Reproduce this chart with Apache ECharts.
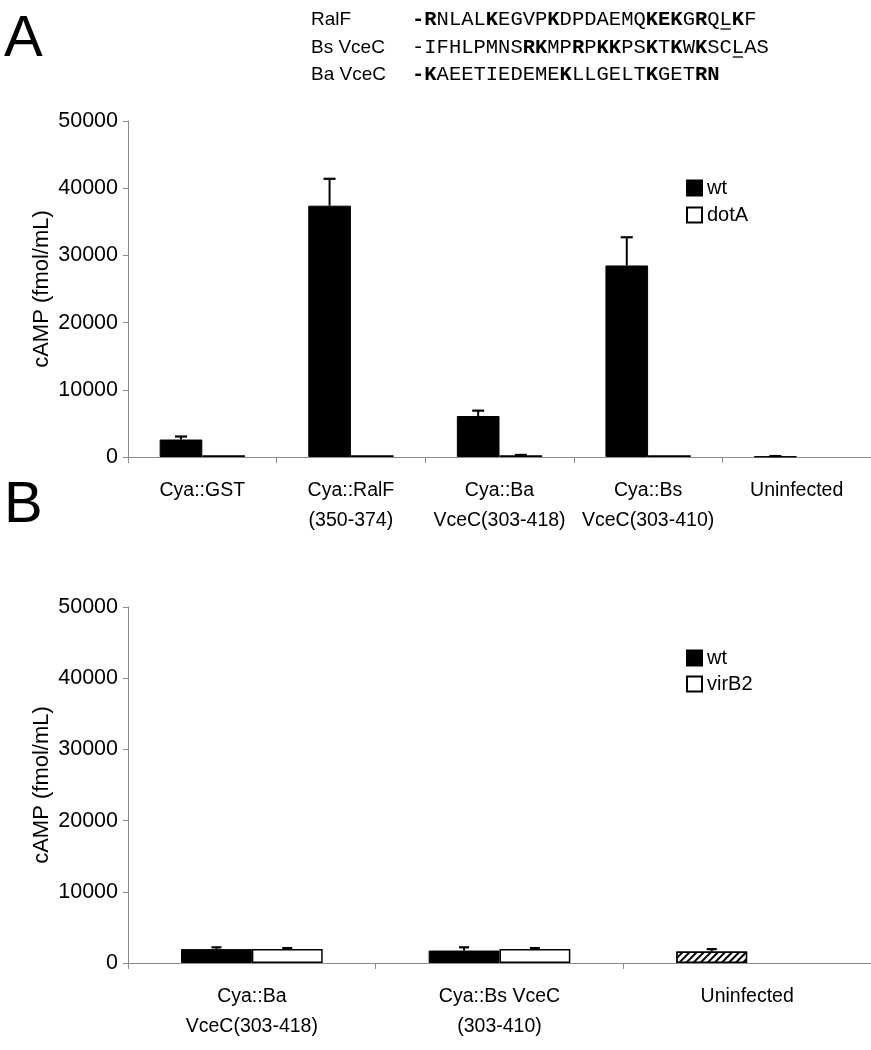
<!DOCTYPE html>
<html>
<head>
<meta charset="utf-8">
<script src="https://cdn.jsdelivr.net/npm/echarts@6/dist/echarts.min.js"></script>
<style>
html,body{margin:0;padding:0;background:#fff;}
#chart{width:871px;height:1050px;}
</style>
</head>
<body>
<div id="chart"></div>
<script>
// ---------- DATA ----------
const categoriesA = ['Cya::GST', 'Cya::RalF\n(350-374)', 'Cya::Ba\nVceC(303-418)', 'Cya::Bs\nVceC(303-410)', 'Uninfected'];
const wtA = [2600, 37400, 6100, 28500, 80];
const wtErrA = [450, 4000, 800, 4200, 60];
const dotAvals = [250, 250, 250, 250, '-'];
const dotAErr = [0, 0, 60, 0, 0];

const categoriesB = ['Cya::Ba\nVceC(303-418)', 'Cya::Bs VceC\n(303-410)', 'Uninfected'];
const wtB = [1950, 1750, 1600];
const wtErrB = [250, 450, 350];
const virB2vals = [1950, 1950, '-'];
const virB2Err = [150, 150, 0];

const seqLabels = ['RalF', 'Bs VceC', 'Ba VceC'];
// segments: [text, bold?]
const seqRalF = [['-R',1],['NLAL',0],['K',1],['EGVP',0],['K',1],['DPDAEMQ',0],['KEK',1],['G',0],['R',1],['QL',0],['K',1],['F',0]];
const seqBs = [['-IFHLPMNS',0],['RK',1],['MP',0],['R',1],['P',0],['KK',1],['PS',0],['K',1],['T',0],['K',1],['W',0],['K',1],['SCLAS',0]];
const seqBa = [['-K',1],['AEETIEDEME',0],['K',1],['LLGELT',0],['K',1],['GET',0],['RN',1]];
const underlineIdx = [25, 26, null];

// ---------- CHART ----------
const chart = echarts.init(document.getElementById('chart'));
const SANS = 'Liberation Sans, Arial, Helvetica, sans-serif';
const MONO = 'Liberation Mono, Courier New, monospace';
const FS_SEQ = 20.5;
const CHW = FS_SEQ * 0.6;
const SEQ_X = 412;
const seqYs = [20, 48, 75];

function richText(segs){
  return segs.map(s => '{' + (s[1] ? 'b' : 'n') + '|' + s[0] + '}').join('');
}
const graphics = [];
graphics.push({type:'text', left:4, top:11, style:{text:'A', font:'58px ' + SANS, fill:'#000'}});
graphics.push({type:'text', left:4, top:477, style:{text:'B', font:'58px ' + SANS, fill:'#000'}});
[seqRalF, seqBs, seqBa].forEach((segs, i) => {
  graphics.push({type:'text', x:311, y:seqYs[i], style:{text:seqLabels[i], font:'19px ' + SANS, fill:'#000', verticalAlign:'middle'}});
  graphics.push({type:'text', x:SEQ_X, y:seqYs[i], style:{text:richText(segs), verticalAlign:'middle', fill:'#000',
    rich:{b:{fontFamily:MONO, fontWeight:'bold', fontSize:FS_SEQ, fill:'#000'}, n:{fontFamily:MONO, fontWeight:'normal', fontSize:FS_SEQ, fill:'#000'}}}});
  if (underlineIdx[i] !== null) {
    const x1 = SEQ_X + underlineIdx[i] * CHW + 1;
    graphics.push({type:'line', shape:{x1:x1, y1:seqYs[i] + 9, x2:x1 + CHW - 2, y2:seqYs[i] + 9}, style:{stroke:'#000', lineWidth:1.3}});
  }
});

function errRender(side, frac, capHalf){
  return function(params, api){
    const cat = api.value(0), v = api.value(1), e = api.value(2);
    if (!e || isNaN(v)) return;
    const catW = api.size([1, 0])[0];
    const base = api.coord([cat, v]);
    const top = api.coord([cat, v + e]);
    const x = base[0] + side * catW * frac / 2;
    return {type:'group', children:[
      {type:'line', shape:{x1:x, y1:base[1], x2:x, y2:top[1]}, style:{stroke:'#000', lineWidth:2}},
      {type:'line', shape:{x1:x - capHalf, y1:top[1], x2:x + capHalf, y2:top[1]}, style:{stroke:'#000', lineWidth:2.2}}
    ]};
  };
}
function errData(vals, errs){
  return vals.map((v, i) => [i, v === '-' ? NaN : v, errs[i]]);
}

const axisGray = '#8a8a8a';
function yAxis(gi){
  return {gridIndex:gi, type:'value', min:0, max:50000, interval:10000,
    name:'cAMP (fmol/mL)', nameLocation:'middle', nameGap:75, nameRotate:90, nameMoveOverlap:false,
    nameTextStyle:{fontFamily:SANS, fontSize:22, color:'#000'},
    axisLine:{show:true, lineStyle:{color:axisGray, width:1}},
    axisTick:{show:true, length:5, lineStyle:{color:axisGray}},
    axisLabel:{fontFamily:SANS, fontSize:21.5, color:'#000', margin:10, formatter:(v) => String(v)},
    splitLine:{show:false}};
}
function xAxis(gi, cats){
  return {gridIndex:gi, type:'category', data:cats,
    axisLine:{lineStyle:{color:axisGray, width:1.2}},
    axisTick:{show:true, length:6, alignWithLabel:false, lineStyle:{color:axisGray}},
    axisLabel:{interval:0, fontFamily:SANS, fontSize:19.5, color:'#000', margin:19, lineHeight:30}};
}

const FRAC_A = 0.287, FRAC_B = 0.286;
const hatch = {symbol:'rect', symbolSize:1, dashArrayX:[1,0], dashArrayY:[2,2.5], rotation:-Math.PI/4, color:'#000', backgroundColor:'#fff'};

const option = {
  animation:false,
  backgroundColor:'#fff',
  graphic:graphics,
  grid:[
    {left:128, top:121, width:748, height:336},
    {left:128, top:607, width:744, height:356}
  ],
  xAxis:[xAxis(0, categoriesA), xAxis(1, categoriesB)],
  yAxis:[yAxis(0), yAxis(1)],
  legend:[
    {data:['wt','dotA'], orient:'vertical', left:681, top:173, itemWidth:15, itemHeight:15, itemGap:7, icon:'rect',
      textStyle:{fontFamily:SANS, fontSize:20, color:'#000', padding:[0,0,0,0]}, selectedMode:false},
    {data:['wt','virB2'], orient:'vertical', left:681, top:643, itemWidth:15, itemHeight:15, itemGap:6, icon:'rect',
      textStyle:{fontFamily:SANS, fontSize:20, color:'#000', padding:[0,0,0,0]}, selectedMode:false}
  ],
  series:[
    {name:'wt', type:'bar', xAxisIndex:0, yAxisIndex:0, data:wtA, barWidth:(FRAC_A*100)+'%', barGap:'0%',
      itemStyle:{color:'#000', borderColor:'#000', borderWidth:1}},
    {name:'dotA', type:'bar', xAxisIndex:0, yAxisIndex:0, data:dotAvals, barWidth:(FRAC_A*100)+'%', barGap:'0%',
      itemStyle:{color:'#fff', borderColor:'#000', borderWidth:1.5}},
    {type:'custom', xAxisIndex:0, yAxisIndex:0, data:errData(wtA, wtErrA), renderItem:errRender(-1, FRAC_A, 6), encode:{x:0, y:1}, z:5, silent:true},
    {type:'custom', xAxisIndex:0, yAxisIndex:0, data:errData(dotAvals, dotAErr), renderItem:errRender(1, FRAC_A, 6), encode:{x:0, y:1}, z:5, silent:true},
    {name:'wt', type:'bar', xAxisIndex:1, yAxisIndex:1,
      data:wtB.map((v, i) => i === 2 ? {value:v, itemStyle:{color:'#fff', borderColor:'#000', borderWidth:1.5, decal:hatch}} : v),
      barWidth:(FRAC_B*100)+'%', barGap:'0%', itemStyle:{color:'#000', borderColor:'#000', borderWidth:1}},
    {name:'virB2', type:'bar', xAxisIndex:1, yAxisIndex:1, data:virB2vals, barWidth:(FRAC_B*100)+'%', barGap:'0%',
      itemStyle:{color:'#fff', borderColor:'#000', borderWidth:1.5}},
    {type:'custom', xAxisIndex:1, yAxisIndex:1, data:errData(wtB, wtErrB), renderItem:errRender(-1, FRAC_B, 5), encode:{x:0, y:1}, z:5, silent:true},
    {type:'custom', xAxisIndex:1, yAxisIndex:1, data:errData(virB2vals, virB2Err), renderItem:errRender(1, FRAC_B, 5), encode:{x:0, y:1}, z:5, silent:true}
  ]
};
chart.setOption(option);
</script>
</body>
</html>
